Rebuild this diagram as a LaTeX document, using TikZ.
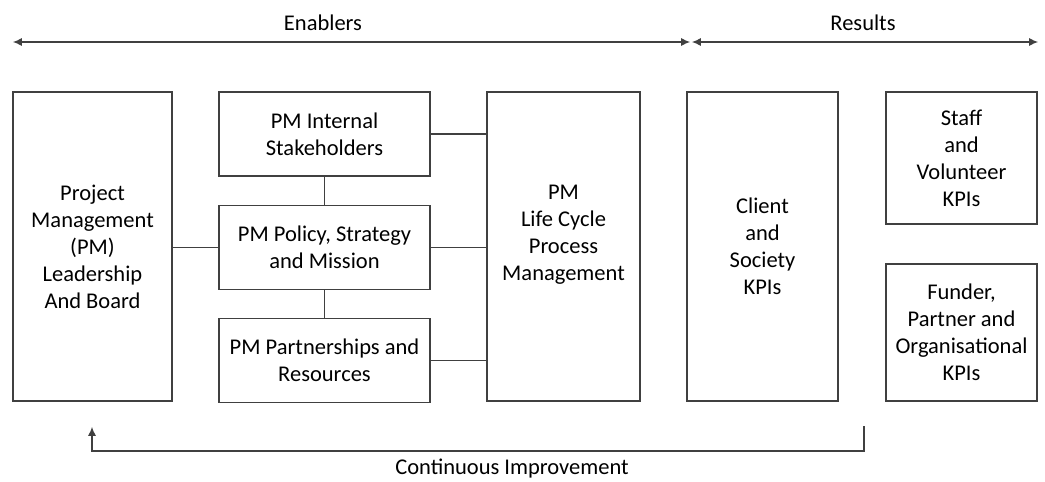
\documentclass[tikz,border=0pt]{standalone}
\usepackage{fontspec}
\setmainfont{Carlito}
\usetikzlibrary{positioning,arrows.meta}
\tikzset{
  box/.style={draw=black!75, line width=0.8pt, align=center, font=\fontsize{16}{19.2}\selectfont},
  link/.style={draw=black!75, line width=0.8pt},
  head/.style={font=\fontsize{16}{19.2}\selectfont},
}

\begin{document}
\begin{tikzpicture}[x=0.025cm, y=-0.025cm, >={Latex[length=2.2mm,width=2mm]}]
\useasboundingbox (0,0) rectangle (1045,481);
% nodes
\node [box, minimum width=3.975cm, minimum height=7.725cm] (lead) at (92.5,246.5) {Project\\Management\\(PM)\\Leadership\\And Board};
\node [box, minimum width=5.275cm, minimum height=2.1cm] (internal) at (324.5,134) {PM Internal\\Stakeholders};
\node [box, minimum width=5.275cm, minimum height=2.1cm, below=0.7cm of internal] (policy) {PM Policy, Strategy\\and Mission};
\node [box, minimum width=5.275cm, minimum height=2.1cm, below=0.7cm of policy] (partner) {PM Partnerships and\\Resources};
\node [box, minimum width=3.825cm, minimum height=7.725cm] (life) at (563.5,246.5) {PM\\Life Cycle\\Process\\Management\\};
\node [box, minimum width=3.775cm, minimum height=7.725cm] (client) at (762.5,246.5) {Client\\and\\Society\\KPIs};
\node [box, minimum width=3.775cm, minimum height=3.3cm] (staff) at (961.5,158) {Staff\\and\\Volunteer\\KPIs};
\node [box, minimum width=3.775cm, minimum height=3.425cm] (funder) at (961.5,332.5) {Funder,\\Partner and\\Organisational\\KPIs};
\node [head] (enablers) at (323,23) {Enablers};
\node [head] (results) at (863,23) {Results};
\node [head] (improve) at (512,469) {Continuous Improvement};
% arrows
\coordinate (eL) at (13,42);
\coordinate (eR) at (690,42);
\coordinate (rL) at (692,42);
\coordinate (rR) at (1038,42);
\coordinate (cStart) at (864,426);
\coordinate (cEnd) at (92,427);
\draw [link, <->] (eL) -- (eR);
\draw [link, <->] (rL) -- (rR);
\draw [link] (lead.east |- policy.west) -- (policy.west);
\draw [link] (internal.south) -- (policy.north);
\draw [link] (policy.south) -- (partner.north);
\draw [link] (internal.east) -- (internal.east -| life.west);
\draw [link] (policy.east) -- (policy.east -| life.west);
\draw [link] (partner.east) -- (partner.east -| life.west);
\draw [link, ->] (cStart) |- (cEnd |- 0,451) -- (cEnd);
\end{tikzpicture}
\end{document}
